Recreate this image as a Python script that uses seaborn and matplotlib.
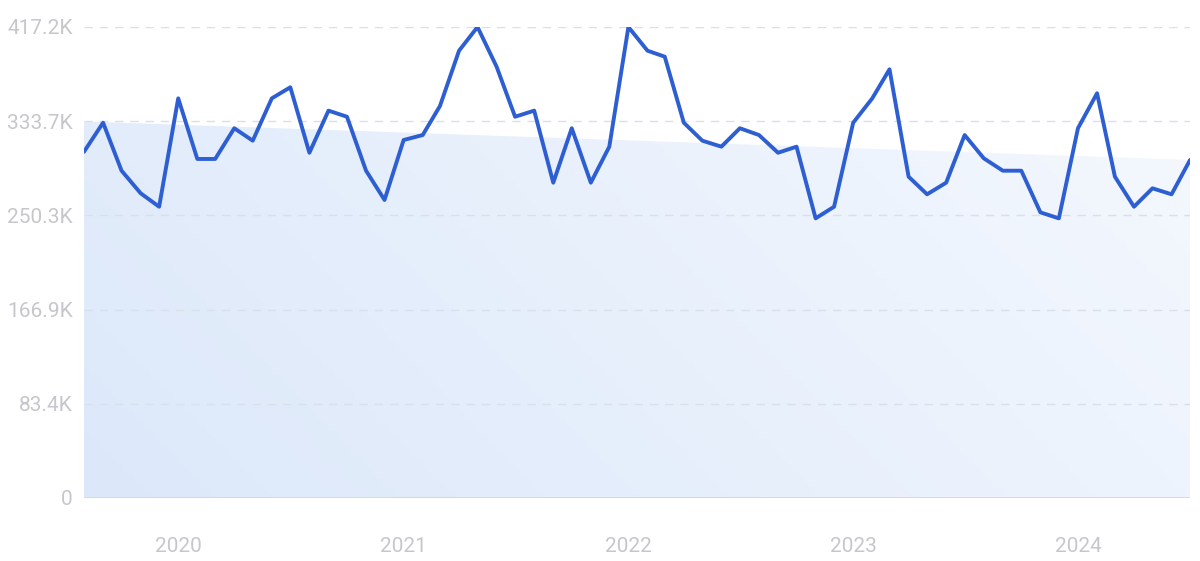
import matplotlib
matplotlib.use("Agg")
import matplotlib.pyplot as plt
import matplotlib.dates as mdates
from matplotlib.colors import LinearSegmentedColormap
import numpy as np
import pandas as pd
import seaborn as sns

# Monthly values, Aug 2019 - Jul 2024 (thousands)
start_month = "2019-08-01"
values_k = [
    306.7, 332.4, 289.9, 269.9, 258.0,
    354.0, 300.3, 300.3, 327.5, 316.5, 354.0, 363.8, 305.8, 343.1, 337.7, 289.9, 264.0,
    317.1, 321.5, 347.2, 396.2, 417.2, 382.0, 337.7, 343.1, 279.3, 327.5, 279.3, 311.2,
    417.2, 396.2, 390.9, 332.4, 316.5, 311.2, 327.5, 321.5, 305.8, 311.2, 247.7, 258.0,
    332.4, 354.0, 379.7, 284.6, 269.0, 279.3, 321.5, 300.9, 289.9, 289.9, 253.0, 247.7,
    327.5, 358.5, 284.6, 258.0, 274.3, 269.0, 299.4,
]
trend_start_k = 333.5
trend_end_k = 299.5
ytick_vals = [0, 83.4, 166.9, 250.3, 333.7, 417.2]
ytick_labels = ["0", "83.4K", "166.9K", "250.3K", "333.7K", "417.2K"]
year_ticks = ["2020", "2021", "2022", "2023", "2024"]

LINE = "#2d5ed2"
TEXT = "#c6c7cc"
GRID = "#d8e0eb"

dates = pd.date_range(start_month, periods=len(values_k), freq="MS")
df = pd.DataFrame({"date": dates, "value": np.array(values_k) * 1000})

sns.set_style("white")
plt.rcParams["font.family"] = ["Roboto", "DejaVu Sans"]

fig = plt.figure(figsize=(12, 5.61), dpi=100)
ax = fig.add_axes([0.07, 0.1123, 0.9217, 0.8396])

xnum = mdates.date2num(dates)
trend = np.linspace(trend_start_k, trend_end_k, len(dates)) * 1000

# gradient fill under the trend line
poly = ax.fill_between(dates, 0, trend, color="none", lw=0)
cmap = LinearSegmentedColormap.from_list("g", ["#dce8fa", "#f4f8fe"])
gx, gy = np.meshgrid(np.linspace(0, 1, 200), np.linspace(0, 1, 100))
grad = 0.75 * gx + 0.25 * (1 - gy)
img = ax.imshow(grad, cmap=cmap, aspect="auto", origin="upper",
                extent=[xnum[0], xnum[-1], 0, trend.max()], zorder=1)
img.set_clip_path(poly.get_paths()[0], transform=ax.transData)

sns.lineplot(data=df, x="date", y="value", color=LINE, linewidth=2.8, ax=ax, zorder=3)

ax.set_xlim(xnum[0], xnum[-1])
ax.set_ylim(0, 417.2e3)
ax.set_yticks([v * 1000 for v in ytick_vals])
ax.set_yticklabels(ytick_labels)
ax.set_xticks([mdates.date2num(pd.Timestamp(f"{y}-01-01")) for y in year_ticks])
ax.set_xticklabels(year_ticks)

for v in ytick_vals[1:]:
    ax.axhline(v * 1000, color=GRID, lw=1, ls=(0, (6, 5)), zorder=2)
ax.axhline(0, color="#c9d8ee", lw=1.2, zorder=2)

for s in ax.spines.values():
    s.set_visible(False)
ax.tick_params(axis="both", length=0, labelcolor=TEXT, labelsize=15)
ax.tick_params(axis="y", pad=8)
ax.tick_params(axis="x", pad=28)
ax.set_xlabel("")
ax.set_ylabel("")

fig.savefig("out.png", dpi=100)
